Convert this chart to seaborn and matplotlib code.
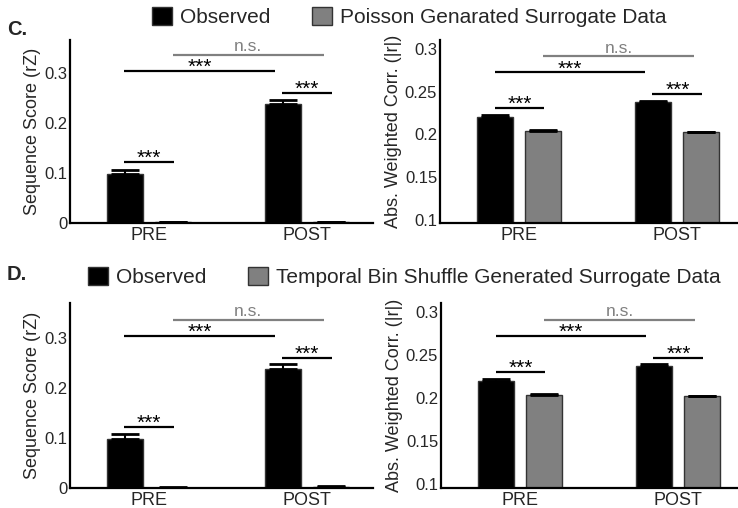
import numpy as np
import pandas as pd
import seaborn as sns
import matplotlib.pyplot as plt
import matplotlib.patches as mpatches

# valores
fases = ["PRE", "POST"]
fuentes = ["Observed", "Surrogate"]
leyenda_c = ["Observed", "Poisson Genarated Surrogate Data"]
leyenda_d = ["Observed", "Temporal Bin Shuffle Generated Surrogate Data"]

# panel C
c_score_obs = [0.098, 0.238]
c_score_obs_err = [0.009, 0.009]
c_score_sur = [0.002, 0.002]
c_score_sur_err = [0.0005, 0.0005]
c_corr_obs = [0.2205, 0.2375]
c_corr_obs_err = [0.002, 0.002]
c_corr_sur = [0.2045, 0.2025]
c_corr_sur_err = [0.0005, 0.0005]

# panel D
d_score_obs = [0.099, 0.239]
d_score_obs_err = [0.009, 0.009]
d_score_sur = [0.001, 0.003]
d_score_sur_err = [0.0005, 0.0005]
d_corr_obs = [0.2205, 0.2375]
d_corr_obs_err = [0.002, 0.002]
d_corr_sur = [0.2045, 0.2025]
d_corr_sur_err = [0.0005, 0.0005]

# alturas de las lineas de significancia: pre, post, obs pre-post, sur pre-post
sig_score = [0.122, 0.261, 0.304, 0.336]
sig_corr = [0.231, 0.2475, 0.2725, 0.2915]

NEGRO = "#000000"
GRIS = "#808080"
BORDE = "#333333"

sns.set_style("white")
plt.rcParams["font.family"] = ["Liberation Sans", "DejaVu Sans"]


def panel(ax, obs, obs_err, sur, sur_err, ylim, yticks, yticklabels, ylabel, sig, xmax):
    """Dibuja un panel de barras con errores y marcas de significancia."""
    df = pd.DataFrame({
        "fase": fases * 2,
        "fuente": [fuentes[0]] * 2 + [fuentes[1]] * 2,
        "valor": obs + sur,
    })
    sns.barplot(data=df, x="fase", y="valor", hue="fuente", order=fases,
                hue_order=fuentes, palette=[NEGRO, GRIS], width=0.608, gap=0.25,
                errorbar=None, edgecolor=BORDE, linewidth=1, legend=False, ax=ax)
    for cont, medias, errs in zip(ax.containers, [obs, sur], [obs_err, sur_err]):
        xs = [p.get_x() + p.get_width() / 2 for p in cont.patches]
        ax.errorbar(xs, medias, yerr=[np.zeros(len(errs)), errs], fmt="none",
                    ecolor="black", elinewidth=1.5, capsize=10, capthick=2, zorder=5)

    ax.set_ylim(*ylim)
    ax.set_xlim(-0.5, xmax)
    ax.set_yticks(yticks)
    ax.set_yticklabels(yticklabels)
    ax.set_xlabel("")
    ax.set_ylabel(ylabel, fontsize=13, labelpad=2)
    ax.tick_params(axis="y", direction="in", length=3, width=1.2, labelsize=12, pad=2)
    ax.tick_params(axis="x", length=0, labelsize=13, pad=3)
    sns.despine(ax=ax)
    for s in ["left", "bottom"]:
        ax.spines[s].set_linewidth(1.6)
        ax.spines[s].set_color("black")

    lineas = [(-0.155, 0.16, sig[0], "black", "***"),
              (0.845, 1.16, sig[1], "black", "***"),
              (-0.155, 0.80, sig[2], "black", "***"),
              (0.15, 1.11, sig[3], GRIS, "n.s.")]
    for x0, x1, y, col, txt in lineas:
        ax.plot([x0, x1], [y, y], color=col, lw=1.6, solid_capstyle="butt", clip_on=False)
        if txt == "***":
            ax.annotate(txt, ((x0 + x1) / 2, y), xytext=(0, -1.5), textcoords="offset points",
                        ha="center", va="baseline", fontsize=15, color=col,
                        annotation_clip=False)
        else:
            ax.annotate(txt, ((x0 + x1) / 2, y), xytext=(0, 0.5), textcoords="offset points",
                        ha="center", va="bottom", fontsize=12.5, color=col,
                        annotation_clip=False)


W, H = 738, 508
fig = plt.figure(figsize=(W / 100, H / 100), dpi=100)

ax_c1 = fig.add_axes([70 / W, 1 - 223 / H, 303 / W, 183 / H])
ax_c2 = fig.add_axes([440 / W, 1 - 223 / H, 297 / W, 183 / H])
ax_d1 = fig.add_axes([70 / W, 1 - 488 / H, 303 / W, 185 / H])
ax_d2 = fig.add_axes([441 / W, 1 - 487.5 / H, 297 / W, 185 / H])

score_ticks = [0, 0.1, 0.2, 0.3]
score_labels = ["0", "0.1", "0.2", "0.3"]
corr_ticks = [0.1, 0.15, 0.2, 0.25, 0.3]
corr_labels = ["0.1", "0.15", "0.2", "0.25", "0.3"]

panel(ax_c1, c_score_obs, c_score_obs_err, c_score_sur, c_score_sur_err,
      (0, 0.366), score_ticks, score_labels, "Sequence Score (rZ)", sig_score, 1.42)
panel(ax_c2, c_corr_obs, c_corr_obs_err, c_corr_sur, c_corr_sur_err,
      (0.0965, 0.3105), corr_ticks, corr_labels, "Abs. Weighted Corr. (|r|)", sig_corr, 1.38)
panel(ax_d1, d_score_obs, d_score_obs_err, d_score_sur, d_score_sur_err,
      (0, 0.37), score_ticks, score_labels, "Sequence Score (rZ)", sig_score, 1.42)
panel(ax_d2, d_corr_obs, d_corr_obs_err, d_corr_sur, d_corr_sur_err,
      (0.0965, 0.3115), corr_ticks, corr_labels, "Abs. Weighted Corr. (|r|)", sig_corr, 1.38)

# etiquetas de panel
fig.text(7 / W, 1 - 35 / H, "C.", fontsize=14.5, fontweight="bold", va="baseline")
fig.text(7 / W, 1 - 280 / H, "D.", fontsize=14.5, fontweight="bold", va="baseline")


def leyenda(textos, x, y):
    handles = [mpatches.Patch(facecolor=NEGRO, edgecolor=BORDE, linewidth=1),
               mpatches.Patch(facecolor=GRIS, edgecolor=BORDE, linewidth=1)]
    fig.legend(handles, textos, loc="upper left", bbox_to_anchor=(x / W, 1 - y / H),
               ncol=2, frameon=False, fontsize=15, handlelength=0.95, handleheight=0.95,
               handletextpad=0.4, columnspacing=2.0, borderpad=0, borderaxespad=0)


leyenda(leyenda_c, 152, 7)
leyenda(leyenda_d, 88, 267)

fig.savefig("out.png", dpi=100)
